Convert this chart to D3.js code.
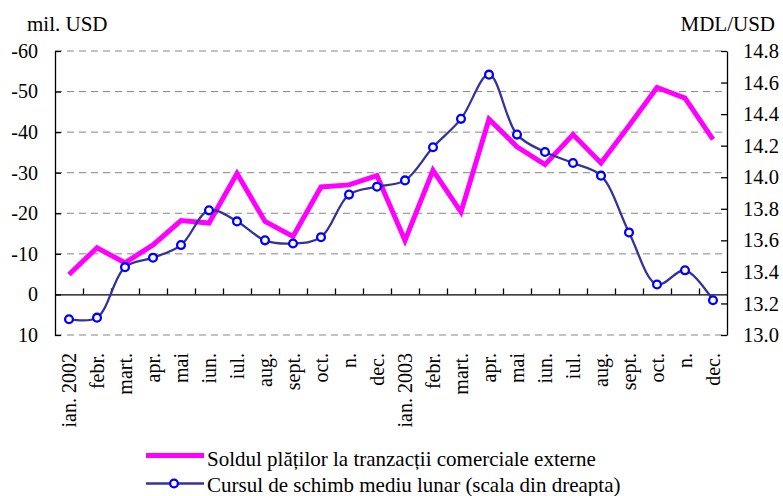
<!DOCTYPE html>
<html>
<head>
<meta charset="utf-8">
<script src="https://cdn.jsdelivr.net/npm/d3@7/dist/d3.min.js"></script>
<style>
  html, body { margin: 0; padding: 0; background: #fff; }
  svg { display: block; }
  text { font-family: "Liberation Serif", "Times New Roman", serif; fill: #000; }
</style>
</head>
<body>
<svg id="chart" width="783" height="496"></svg>
<script>
// Months, Jan 2002 – Dec 2003
const months = ["ian. 2002", "febr.", "mart.", "apr.", "mai", "iun.", "iul.", "aug.", "sept.", "oct.", "n.", "dec.",
                "ian. 2003", "febr.", "mart.", "apr.", "mai", "iun.", "iul.", "aug.", "sept.", "oct.", "n.", "dec."];

// Balance of payments on external trade transactions, mil. USD (left scale)
const soldul = [-4.9, -11.5, -7.8, -12.2, -18.2, -17.6, -29.8, -18.0, -14.3, -26.5, -27.0, -29.3,
                -13.3, -30.6, -20.3, -43.2, -36.4, -32.0, -39.4, -32.4, -41.6, -51.0, -48.4, -38.2];

// Average monthly exchange rate, MDL/USD (right scale)
const cursul = [13.10, 13.11, 13.43, 13.49, 13.57, 13.79, 13.72, 13.60, 13.58, 13.62, 13.89, 13.94,
                13.98, 14.19, 14.37, 14.65, 14.27, 14.16, 14.09, 14.01, 13.65, 13.32, 13.41, 13.22];

const leftTicks = [-60, -50, -40, -30, -20, -10, 0, 10];
const rightTicks = [13.0, 13.2, 13.4, 13.6, 13.8, 14.0, 14.2, 14.4, 14.6, 14.8];

const leftTitle = "mil. USD";
const rightTitle = "MDL/USD";
const legendLabels = ["Soldul plăților la tranzacții comerciale externe",
                      "Cursul de schimb mediu lunar (scala din dreapta)"];

const svg = d3.select("#chart");
const plot = { left: 55, right: 727, top: 51, bottom: 335 };
const serif = "Liberation Serif, Times New Roman, serif";

const idx = d3.range(months.length);
const x = d3.scaleBand().domain(idx).range([plot.left, plot.right]);
const xc = i => x(i) + x.bandwidth() / 2;
const xEdge = d3.scaleLinear().domain([0, months.length]).range([plot.left, plot.right]);
const yL = d3.scaleLinear().domain([10, -60]).range([plot.bottom, plot.top]);
const yR = d3.scaleLinear().domain([13.0, 14.8]).range([plot.bottom, plot.top]);

// dashed horizontal gridlines
svg.append("g").selectAll("line")
  .data(leftTicks.filter(d => d !== 0))
  .join("line")
  .attr("x1", plot.left).attr("x2", plot.right)
  .attr("y1", d => yL(d)).attr("y2", d => yL(d))
  .attr("stroke", "#858585").attr("stroke-width", 1)
  .attr("stroke-dasharray", "7,5");

// left axis
const gL = svg.append("g").attr("transform", `translate(${plot.left},0)`)
  .call(d3.axisLeft(yL).tickValues(leftTicks).tickFormat(d => String(d))
        .tickSizeInner(-6).tickSizeOuter(0).tickPadding(17));
gL.attr("font-family", serif);
gL.selectAll("text").attr("font-size", 20);
gL.selectAll("path, line").attr("stroke", "#000").attr("stroke-width", 1.3);

// right axis
const gR = svg.append("g").attr("transform", `translate(${plot.right},0)`)
  .call(d3.axisRight(yR).tickValues(rightTicks).tickFormat(d3.format(".1f"))
        .tickSizeInner(-6).tickSizeOuter(0).tickPadding(16));
gR.attr("font-family", serif);
gR.selectAll("text").attr("font-size", 20.5);
gR.selectAll("path, line").attr("stroke", "#000").attr("stroke-width", 1.3);

// zero line with month separators
const gZ = svg.append("g").attr("transform", `translate(0,${yL(0)})`)
  .call(d3.axisTop(xEdge).tickValues(d3.range(1, months.length)).tickFormat("")
        .tickSizeInner(6).tickSizeOuter(0));
gZ.selectAll("path, line").attr("stroke", "#000").attr("stroke-width", 1.3);

// month labels
const gX = svg.append("g").attr("transform", `translate(0,${plot.bottom})`)
  .call(d3.axisBottom(x).tickFormat(i => months[i]).tickSize(0));
gX.attr("font-family", serif);
gX.select(".domain").remove();
gX.selectAll("text")
  .attr("font-size", 20)
  .attr("transform", "rotate(-90)")
  .attr("text-anchor", "end")
  .attr("x", -18).attr("y", 0).attr("dy", "0.33em");

// axis titles
svg.append("text").attr("x", 27).attr("y", 31).attr("font-size", 21).text(leftTitle);
svg.append("text").attr("x", 775).attr("y", 31).attr("font-size", 21)
  .attr("text-anchor", "end").text(rightTitle);

// trade balance line
svg.append("path")
  .datum(soldul)
  .attr("fill", "none").attr("stroke", "#ff00ff").attr("stroke-width", 5)
  .attr("d", d3.line().x((d, i) => xc(i)).y(d => yL(d)));

// exchange rate line with markers
svg.append("path")
  .datum(cursul)
  .attr("fill", "none").attr("stroke", "#333399").attr("stroke-width", 2.3)
  .attr("d", d3.line().x((d, i) => xc(i)).y(d => yR(d)).curve(d3.curveCatmullRom.alpha(0.5)));
svg.append("g").selectAll("circle")
  .data(cursul)
  .join("circle")
  .attr("cx", (d, i) => xc(i)).attr("cy", d => yR(d)).attr("r", 3.9)
  .attr("fill", "#fff").attr("stroke", "#0000ff").attr("stroke-width", 2.3);

// legend
const lg = svg.append("g");
lg.append("line").attr("x1", 146).attr("x2", 204).attr("y1", 455.5).attr("y2", 455.5)
  .attr("stroke", "#ff00ff").attr("stroke-width", 5);
lg.append("text").attr("x", 207).attr("y", 466).attr("font-size", 21).text(legendLabels[0]);
lg.append("line").attr("x1", 146).attr("x2", 204).attr("y1", 483.5).attr("y2", 483.5)
  .attr("stroke", "#333399").attr("stroke-width", 2.3);
lg.append("circle").attr("cx", 174).attr("cy", 483.5).attr("r", 3.9)
  .attr("fill", "#fff").attr("stroke", "#0000ff").attr("stroke-width", 2.3);
lg.append("text").attr("x", 207).attr("y", 492).attr("font-size", 21).text(legendLabels[1]);
</script>
</body>
</html>
